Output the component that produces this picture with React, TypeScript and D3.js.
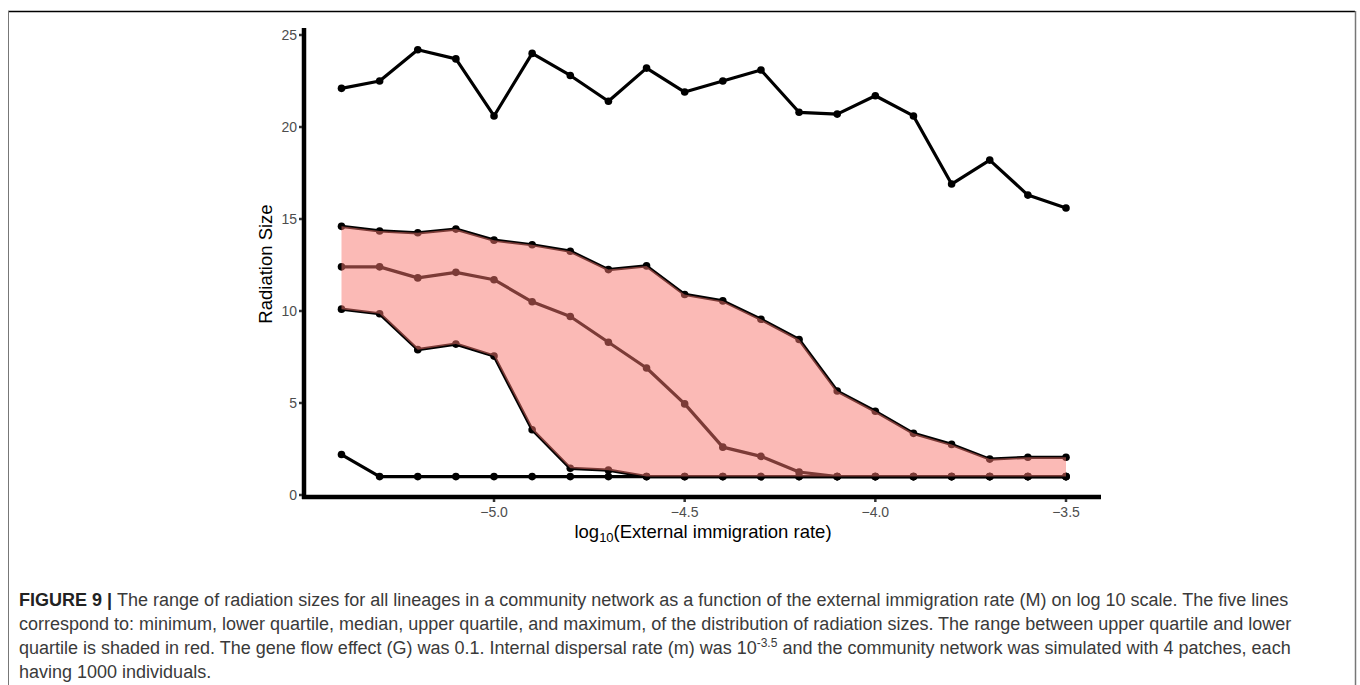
import React, { useEffect, useRef } from 'react';
import * as d3 from 'd3';

// log10 of external immigration rate
const xValues = [-5.4, -5.3, -5.2, -5.1, -5.0, -4.9, -4.8, -4.7, -4.6, -4.5, -4.4, -4.3, -4.2, -4.1, -4.0, -3.9, -3.8, -3.7, -3.6, -3.5];

const maximum = [22.1, 22.5, 24.2, 23.7, 20.6, 24.0, 22.8, 21.4, 23.2, 21.9, 22.5, 23.1, 20.8, 20.7, 21.7, 20.6, 16.9, 18.2, 16.3, 15.6];
const upperQuartile = [14.6, 14.35, 14.25, 14.45, 13.85, 13.6, 13.25, 12.25, 12.45, 10.9, 10.55, 9.55, 8.45, 5.65, 4.55, 3.35, 2.75, 1.95, 2.05, 2.05];
const median = [12.4, 12.4, 11.8, 12.1, 11.7, 10.5, 9.7, 8.3, 6.9, 4.95, 2.6, 2.1, 1.25, 1, 1, 1, 1, 1, 1, 1];
const lowerQuartile = [10.1, 9.85, 7.9, 8.2, 7.55, 3.55, 1.45, 1.35, 1, 1, 1, 1, 1, 1, 1, 1, 1, 1, 1, 1];
const minimum = [2.2, 1, 1, 1, 1, 1, 1, 1, 1, 1, 1, 1, 1, 1, 1, 1, 1, 1, 1, 1];

const xTicks = [-5.0, -4.5, -4.0, -3.5];
const yTicks = [0, 5, 10, 15, 20, 25];

const captionLines = [
  'The range of radiation sizes for all lineages in a community network as a function of the external immigration rate (M) on log 10 scale. The five lines',
  'correspond to: minimum, lower quartile, median, upper quartile, and maximum, of the distribution of radiation sizes. The range between upper quartile and lower',
  'quartile is shaded in red. The gene flow effect (G) was 0.1. Internal dispersal rate (m) was 10',
  'having 1000 individuals.',
];

type Pt = { x: number; y: number };

const App: React.FC = () => {
  const svgRef = useRef<SVGSVGElement>(null);

  useEffect(() => {
    if (!svgRef.current) return;
    const svg = d3.select(svgRef.current);
    svg.selectAll('*').remove();

    const font = 'Liberation Sans, Arial, Helvetica, sans-serif';

    const xScale = d3.scaleLinear().domain([-5.4, -3.5]).range([341.5, 1066]);
    const yScale = d3.scaleLinear().domain([0, 25]).range([495, 35]);

    // Figure frame
    svg.append('line')
      .attr('x1', 8).attr('x2', 1355).attr('y1', 11.5).attr('y2', 11.5)
      .attr('stroke', '#000').attr('stroke-width', 1.5);
    svg.append('line')
      .attr('x1', 8.5).attr('x2', 8.5).attr('y1', 11).attr('y2', 685)
      .attr('stroke', '#777').attr('stroke-width', 1);
    svg.append('line')
      .attr('x1', 1355.5).attr('x2', 1355.5).attr('y1', 11).attr('y2', 685)
      .attr('stroke', '#777').attr('stroke-width', 1.5);

    const toPts = (vals: number[]): Pt[] => vals.map((v, i) => ({ x: xValues[i], y: v }));
    const line = d3.line<Pt>().x(d => xScale(d.x)).y(d => yScale(d.y));

    // Lines and points first, the ribbon goes on top (ggplot order)
    [maximum, upperQuartile, median, lowerQuartile, minimum].forEach(series => {
      const pts = toPts(series);
      svg.append('path')
        .datum(pts)
        .attr('fill', 'none')
        .attr('stroke', '#000')
        .attr('stroke-width', 3.2)
        .attr('stroke-linejoin', 'round')
        .attr('d', line);
      svg.append('g')
        .selectAll('circle')
        .data(pts)
        .enter()
        .append('circle')
        .attr('cx', d => xScale(d.x))
        .attr('cy', d => yScale(d.y))
        .attr('r', 3.8)
        .attr('fill', '#000');
    });

    const ribbon = d3.area<number>()
      .x((_, i) => xScale(xValues[i]))
      .y0((_, i) => yScale(lowerQuartile[i]))
      .y1(d => yScale(d));
    svg.append('path')
      .datum(upperQuartile)
      .attr('fill', '#F8766D')
      .attr('fill-opacity', 0.5)
      .attr('d', ribbon);

    // Axes
    const xAxis = svg.append('g').attr('transform', 'translate(0,497)');
    xAxis.append('line')
      .attr('x1', 302).attr('x2', 1101).attr('y1', 0).attr('y2', 0)
      .attr('stroke', '#000').attr('stroke-width', 4.5);
    xTicks.forEach(t => {
      xAxis.append('line')
        .attr('x1', xScale(t)).attr('x2', xScale(t)).attr('y1', 2).attr('y2', 5)
        .attr('stroke', '#333').attr('stroke-width', 2.5);
      xAxis.append('text')
        .attr('x', xScale(t)).attr('y', 19.5)
        .attr('text-anchor', 'middle')
        .attr('font-family', font).attr('font-size', 14)
        .attr('fill', '#4d4d4d')
        .text(d3.format('.1f')(t).replace('-', '\u2212'));
    });

    const yAxis = svg.append('g').attr('transform', 'translate(304,0)');
    yAxis.append('line')
      .attr('x1', 0).attr('x2', 0).attr('y1', 28).attr('y2', 499)
      .attr('stroke', '#000').attr('stroke-width', 4.5);
    yTicks.forEach(t => {
      yAxis.append('line')
        .attr('x1', -5).attr('x2', -2).attr('y1', yScale(t)).attr('y2', yScale(t))
        .attr('stroke', '#333').attr('stroke-width', 2.5);
      yAxis.append('text')
        .attr('x', -7).attr('y', yScale(t) + 5)
        .attr('text-anchor', 'end')
        .attr('font-family', font).attr('font-size', 14)
        .attr('fill', '#4d4d4d')
        .text(t);
    });

    // Axis titles
    svg.append('text')
      .attr('transform', 'translate(272,264) rotate(-90)')
      .attr('text-anchor', 'middle')
      .attr('font-family', font).attr('font-size', 18.5)
      .attr('fill', '#000')
      .text('Radiation Size');

    const xTitle = svg.append('text')
      .attr('x', 703).attr('y', 538)
      .attr('text-anchor', 'middle')
      .attr('font-family', font).attr('font-size', 18.5)
      .attr('fill', '#000');
    xTitle.append('tspan').text('log');
    xTitle.append('tspan').attr('font-size', 13).attr('dy', 4).text('10');
    xTitle.append('tspan').attr('dy', -4).text('(External immigration rate)');

    // Caption
    const cap = svg.append('g').attr('font-family', font).attr('font-size', 18).attr('fill', '#3a3a3a');
    const l1 = cap.append('text').attr('x', 19).attr('y', 606);
    l1.append('tspan').attr('font-weight', 'bold').attr('fill', '#222').text('FIGURE 9 | ');
    l1.append('tspan').text(captionLines[0]);
    cap.append('text').attr('x', 19).attr('y', 630).text(captionLines[1]);
    const l3 = cap.append('text').attr('x', 19).attr('y', 654);
    l3.append('tspan').text(captionLines[2]);
    l3.append('tspan').attr('font-size', 12).attr('dy', -7).text('-3.5');
    l3.append('tspan').attr('dy', 7).text(' and the community network was simulated with 4 patches, each');
    cap.append('text').attr('x', 19).attr('y', 678).text(captionLines[3]);
  }, []);

  return (
    <svg
      ref={svgRef}
      width={1360}
      height={685}
      style={{ position: 'absolute', left: 0, top: 0, background: '#fff' }}
    />
  );
};

export default App;
